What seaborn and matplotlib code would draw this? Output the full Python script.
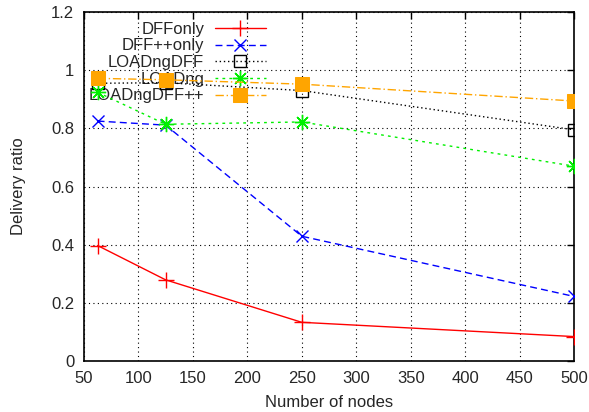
import pandas as pd
import matplotlib
matplotlib.use("Agg")
import matplotlib.pyplot as plt
import seaborn as sns

# Donnees
nodes = [62.5, 125, 250, 500]
dff_only = [0.397, 0.279, 0.133, 0.084]
dffpp_only = [0.825, 0.811, 0.429, 0.222]
loadng_dff = [0.955, 0.957, 0.930, 0.795]
loadng = [0.924, 0.814, 0.822, 0.670]
loadng_dffpp = [0.972, 0.967, 0.952, 0.894]

series = {
    "DFFonly": dff_only,
    "DFF++only": dffpp_only,
    "LOADngDFF": loadng_dff,
    "LOADng": loadng,
    "LOADngDFF++": loadng_dffpp,
}

styles = {
    "DFFonly": dict(color="#ff0000", linestyle="-", marker="+", markersize=11,
                    mec="#ff0000", mew=1.0),
    "DFF++only": dict(color="#0000ff", linestyle=(0, (5, 3)), marker="x", markersize=9,
                      mec="#0000ff", mew=1.0),
    "LOADngDFF": dict(color="black", linestyle=(0, (1, 2)), marker="s", markersize=8,
                      mfc="none", mec="black", mew=1.0),
    "LOADng": dict(color="#00f000", linestyle=(0, (2, 3)), marker=(8, 2, 0), markersize=11,
                   mec="#00f000", mew=1.0),
    "LOADngDFF++": dict(color="#ffa500", linestyle=(0, (6, 2, 1, 2)), marker="s", markersize=10,
                        mfc="#ffa500", mec="#ffa500"),
}

df = pd.DataFrame(
    [(n, name, v) for name, vals in series.items() for n, v in zip(nodes, vals)],
    columns=["nodes", "serie", "ratio"],
)

sns.set_style("white")
plt.rcParams["font.family"] = ["Liberation Sans", "DejaVu Sans"]

fig = plt.figure(figsize=(5.89, 4.12), dpi=100)
ax = fig.add_axes([0.1426, 0.1238, 0.832, 0.847])

for name in series:
    sub = df[df["serie"] == name]
    sns.lineplot(data=sub, x="nodes", y="ratio", ax=ax, label=name, lw=1.0,
                 zorder=3, **styles[name])

ax.set_xlim(50, 500)
ax.set_ylim(0, 1.2)
ax.set_xticks(range(50, 501, 50))
ax.set_yticks([0, 0.2, 0.4, 0.6, 0.8, 1, 1.2])
ax.set_yticklabels(["0", "0.2", "0.4", "0.6", "0.8", "1", "1.2"])
ax.grid(True, color="black", linestyle=(0, (1, 3)), linewidth=0.8)
ax.tick_params(direction="in", length=5, width=1, top=True, right=True,
               labelsize=12, pad=7, color="black")
for sp in ax.spines.values():
    sp.set_color("black")
    sp.set_linewidth(1.2)

ax.set_xlabel("Number of nodes", fontsize=12, labelpad=7)
ax.set_ylabel("Delivery ratio", fontsize=12, labelpad=18)

leg = ax.legend(loc="upper right", bbox_to_anchor=(0.371, 0.972), frameon=False,
                markerfirst=False, fontsize=12, handlelength=3.05, handletextpad=0.65,
                labelspacing=0.1, borderpad=0, borderaxespad=0)
leg.set_zorder(1)

plt.savefig("out.png", dpi=100)
